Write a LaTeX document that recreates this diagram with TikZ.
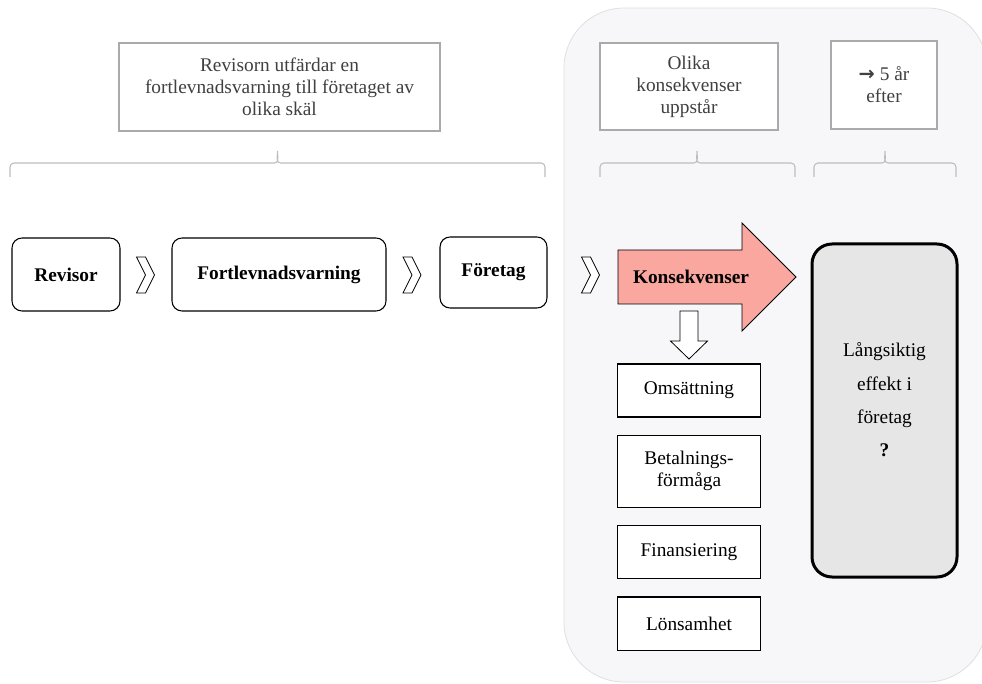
\documentclass[tikz,border=0pt]{standalone}
\usepackage{fontspec}
\setmainfont{Liberation Serif}
\newfontfamily\symfont{DejaVu Sans}
\usepackage{xcolor}
\usepackage{tikz}
\usetikzlibrary{arrows.meta,positioning}
\definecolor{panelGray}{HTML}{F7F7F9}
\definecolor{panelEdge}{HTML}{E0E0E2}
\definecolor{noteEdge}{HTML}{AAAAAA}
\definecolor{noteText}{HTML}{404040}
\definecolor{braceGray}{HTML}{BDBDBD}
\definecolor{konsRed}{HTML}{FAA79F}
\definecolor{effectGray}{HTML}{E6E6E6}

\begin{document}
\begin{tikzpicture}[x=0.75pt,y=-0.75pt,
  every node/.style={font=\fontsize{14.5}{16.5}\selectfont},
  notebox/.style={draw=noteEdge,line width=0.8pt,fill=white,text=noteText,align=center,inner sep=2pt},
  stagebox/.style={draw,line width=0.8pt,rounded corners=7.5pt,fill=white,font=\fontsize{14.5}{16.5}\selectfont\bfseries,minimum height=54.75pt},
  factorbox/.style={draw,line width=0.9pt,fill=white,align=center,minimum width=107pt,minimum height=40pt},
  chevron/.style={draw,line width=0.6pt,fill=white,line join=miter},
  brace/.style={draw=braceGray,line width=0.8pt}]
  \useasboundingbox (0,0) rectangle (982,684);
  % grey panel behind the right half
  \fill[panelGray,draw=panelEdge,line width=0.6pt,rounded corners=45pt] (564,8) rectangle (987,682);

  % notes on top
  \node[notebox,minimum width=240.75pt,minimum height=66pt] (reason) at (279.5,87)
    {Revisorn utfärdar en\\fortlevnadsvarning till företaget av\\olika skäl};
  \node[notebox,minimum width=133.5pt,minimum height=65.25pt] (arise) at (689,86.5)
    {Olika\\konsekvenser\\uppstår};
  \node[notebox,minimum width=79.5pt,minimum height=66pt] (later) at (884,85)
    {{\symfont\bfseries →} 5 år\\efter};
  \foreach \l/\t/\r in {10/277.5/545,600/697/795,814/885/956}
    \draw[brace] (\l,177) -- (\l,167) to[out=90,in=180] (\l+4,163) -- (\t-3,163)
      to[out=0,in=-90] (\t,151) to[out=-90,in=180] (\t+3,163) -- (\r-4,163)
      to[out=0,in=90] (\r,167) -- (\r,177);

  % chain
  \node[stagebox,minimum width=81pt] (revisor) at (66,274.5) {Revisor};
  \node[stagebox,minimum width=160.5pt] (warning) at (279,274.5) {Fortlevnadsvarning};
  \node[stagebox,minimum width=80.25pt,minimum height=53.25pt] (company) at (493.5,272.5) {Företag};
  \foreach \c in {145.5,412,590.5}
    \draw[chevron] (\c-9,257) -- (\c,257) -- (\c+9,275) -- (\c,293) -- (\c-9,293) -- (\c,275) -- cycle;

  \draw[line width=0.6pt,fill=konsRed] (618,250) -- (742,250) -- (742,223) -- (796,277)
    -- (742,331) -- (742,304) -- (618,304) -- cycle;
  \node[font=\fontsize{14.5}{16.5}\selectfont\bfseries] (kons) at (691,277) {Konsekvenser};
  \draw[line width=0.6pt,fill=white] (680,311) -- (698,311) -- (698,341) -- (707.5,341)
    -- (689,359) -- (670.5,341) -- (680,341) -- cycle;

  \node[factorbox,minimum height=39.75pt] (sales) at (689,390.5) {Omsättning};
  \node[factorbox,minimum height=54pt,below=12.75pt of sales] (solvency) {Betalnings-\\förmåga};
  \node[factorbox,below=12.75pt of solvency] (funding) {Finansiering};
  \node[factorbox,below=12.75pt of funding] (profit) {Lönsamhet};

  \node[draw,line width=2.25pt,rounded corners=15pt,fill=effectGray,
    minimum width=108.75pt,minimum height=249.75pt] (effect) at (884.5,410.5) {};
  \node[align=center,font=\fontsize{14.5}{25}\selectfont] (effecttxt) at (884.5,400)
    {Långsiktig\\effekt i\\företag\\\textbf{?}};
\end{tikzpicture}
\end{document}
